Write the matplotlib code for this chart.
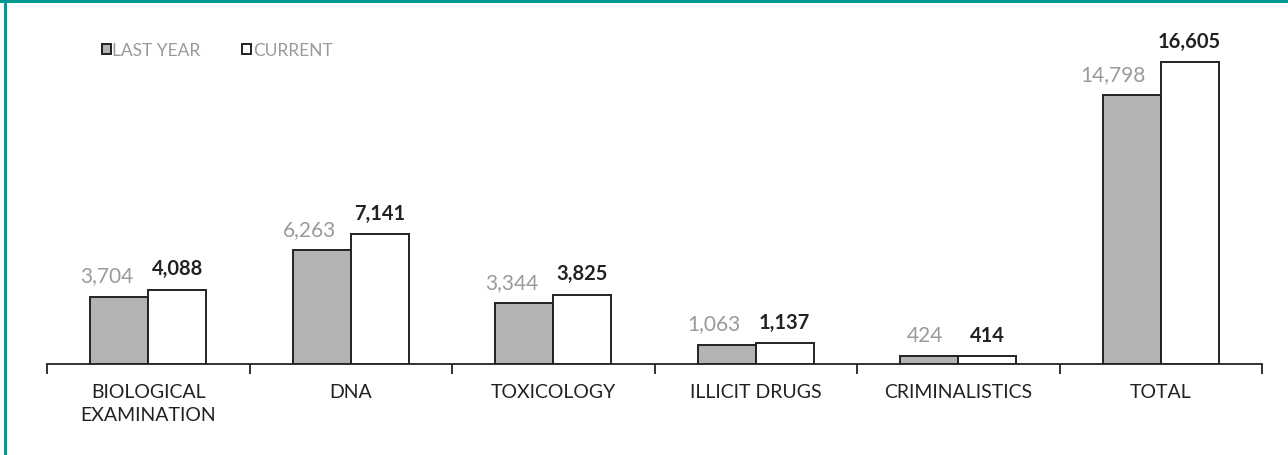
import matplotlib
matplotlib.use("Agg")
import matplotlib.pyplot as plt
import numpy as np
from matplotlib.lines import Line2D
from matplotlib.patches import Rectangle

plt.rcParams['font.family'] = ['Lato', 'DejaVu Sans']

categories = ["BIOLOGICAL\nEXAMINATION", "DNA", "TOXICOLOGY", "ILLICIT DRUGS", "CRIMINALISTICS", "TOTAL"]
last_year = [3704, 6263, 3344, 1063, 424, 14798]
current = [4088, 7141, 3825, 1137, 414, 16605]
series_names = ["LAST YEAR", "CURRENT"]

W, H = 1288, 456
fig = plt.figure(figsize=(W / 100, H / 100), dpi=100)
fig.patch.set_facecolor("white")

ax_left, ax_right = 47, 1262
ax_bottom, ax_top = 365, 38
ax = fig.add_axes([ax_left / W, (H - ax_bottom) / H, (ax_right - ax_left) / W, (ax_bottom - ax_top) / H])

x = np.arange(len(categories))
bw = 0.286
gray = "#b3b3b3"
edge = "#222222"
ax.bar(x - bw / 2, last_year, bw, color=gray, edgecolor=edge, linewidth=1.4, zorder=3)
ax.bar(x + bw / 2, current, bw, color="white", edgecolor=edge, linewidth=1.4, zorder=3)

ax.set_xlim(-0.5, len(categories) - 0.5)
ax.set_ylim(0, 18000)

for spine in ["top", "right", "left"]:
    ax.spines[spine].set_visible(False)
ax.spines["bottom"].set_color("#222222")
ax.spines["bottom"].set_linewidth(1.3)
ax.set_yticks([])
ax.set_xticks(x)
ax.set_xticklabels(categories, fontsize=14, color="#222222", linespacing=1.38)
ax.tick_params(axis="x", which="major", length=0, pad=14)
ax.set_xticks(np.arange(-0.5, len(categories), 1.0), minor=True)
ax.tick_params(axis="x", which="minor", length=7, width=1.3, color="#222222", direction="out")

for xi, v in zip(x, last_year):
    ax.annotate(f"{v:,}", xy=(xi - bw / 2 + 0.07, v), xytext=(0, 11), textcoords="offset points",
                ha="right", va="baseline", fontsize=15, color="#9a9a9a")
for xi, v in zip(x, current):
    ax.annotate(f"{v:,}", xy=(xi + bw / 2, v), xytext=(0, 11), textcoords="offset points",
                ha="center", va="baseline", fontsize=14.5, fontweight="bold", color="#222222")

# legend
handles = [Rectangle((0, 0), 1, 1, facecolor=gray, edgecolor=edge, linewidth=1.4),
           Rectangle((0, 0), 1, 1, facecolor="white", edgecolor=edge, linewidth=1.4)]
leg = fig.legend(handles, series_names, loc="upper left", bbox_to_anchor=(95 / W, 1 - 36 / H),
                 ncol=2, frameon=False, fontsize=12.5, handlelength=0.5, handleheight=0.5,
                 handletextpad=0.1, columnspacing=2.4, borderaxespad=0)
for t in leg.get_texts():
    t.set_color("#9a9a9a")

# teal frame
teal = "#009a93"
fig.patches.append(Rectangle((0, 1 - 4 / H), 1, 4 / H, transform=fig.transFigure,
                             facecolor=teal, edgecolor="none", zorder=10))
fig.lines.append(Line2D([5 / W, 5 / W], [0, 1], transform=fig.transFigure, color=teal, linewidth=2.2, zorder=10))

fig.savefig("out.png", dpi=100)
